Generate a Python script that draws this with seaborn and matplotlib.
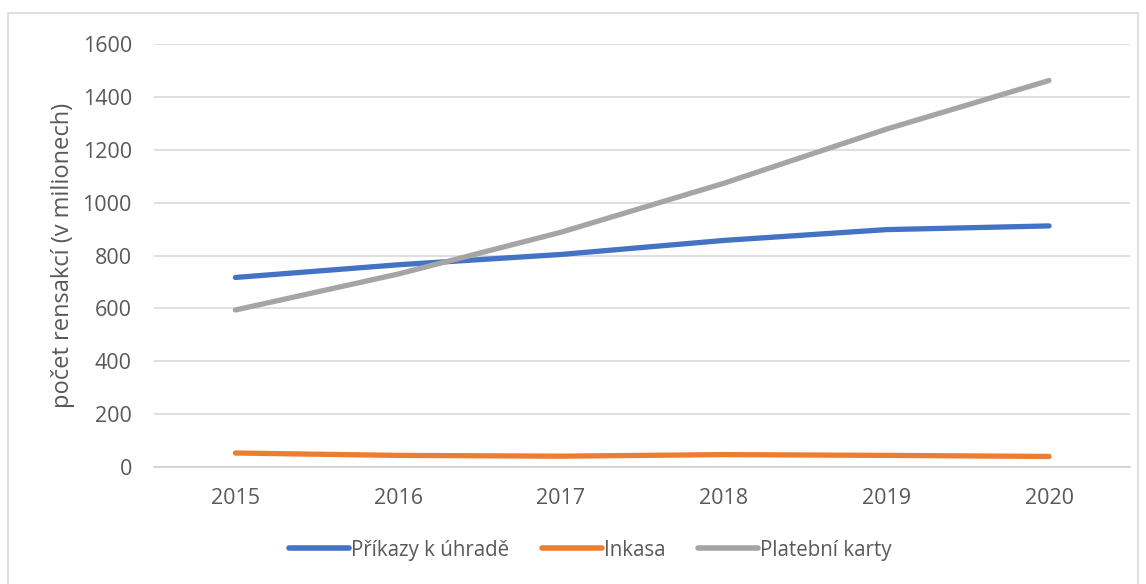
import matplotlib
matplotlib.use("Agg")
import matplotlib.pyplot as plt
import seaborn as sns
import pandas as pd
from matplotlib.patches import Rectangle

years = ["2015", "2016", "2017", "2018", "2019", "2020"]
prikazy = [717, 765, 804, 857, 898, 912]
inkasa = [53, 44, 41, 47, 44, 40]
karty = [594, 730, 888, 1073, 1278, 1462]
series_names = ["Příkazy k úhradě", "Inkasa", "Platební karty"]
colors = ["#4472C4", "#ED7D31", "#A5A5A5"]
yticks = [0, 200, 400, 600, 800, 1000, 1200, 1400, 1600]
ylabel = "počet rensakcí (v milionech)"

df = pd.DataFrame({
    "rok": years * 3,
    "hodnota": prikazy + inkasa + karty,
    "serie": [series_names[0]] * 6 + [series_names[1]] * 6 + [series_names[2]] * 6,
})

sns.set_theme(style="white")
plt.rcParams["font.family"] = ["Open Sans", "DejaVu Sans"]

fig = plt.figure(figsize=(11.46, 5.84), dpi=100)
ax = fig.add_axes([0.1344, 0.2003, 0.852, 0.7243])

sns.lineplot(data=df, x="rok", y="hodnota", hue="serie", palette=colors,
             linewidth=3.8, ax=ax, sort=False, solid_capstyle="round")

ax.set_xlim(-0.5, 5.5)
ax.set_ylim(0, 1600)
ax.set_yticks(yticks)
ax.set_yticklabels([str(v) for v in yticks])
ax.yaxis.grid(True, color="#D9D9D9", linewidth=1.2)
ax.xaxis.grid(False)
ax.set_axisbelow(True)
for s in ["top", "right", "left"]:
    ax.spines[s].set_visible(False)
ax.spines["bottom"].set_color("#D0D0D0")
ax.spines["bottom"].set_linewidth(1.2)
ax.tick_params(axis="both", length=0, labelsize=15.5, colors="#595959")
ax.tick_params(axis="x", pad=15)
ax.tick_params(axis="y", pad=16)
ax.set_xlabel("")
ax.set_ylabel(ylabel, fontsize=17, color="#595959", labelpad=5)

leg = ax.legend(loc="center", bbox_to_anchor=(0.515, 0.058), bbox_transform=fig.transFigure,
                ncol=3, frameon=False, fontsize=14.8, handlelength=2.9, handletextpad=0.1,
                columnspacing=1.6)
for t in leg.get_texts():
    t.set_color("#595959")
for h in leg.get_lines():
    h.set_linewidth(4)

fig.patches.append(Rectangle((8 / 1146, -0.01), (1138 - 8) / 1146, (584 - 13) / 584 + 0.01,
                             transform=fig.transFigure, fill=False, edgecolor="#D9D9D9",
                             linewidth=1.2))

fig.savefig("out.png", dpi=100, facecolor="white")
